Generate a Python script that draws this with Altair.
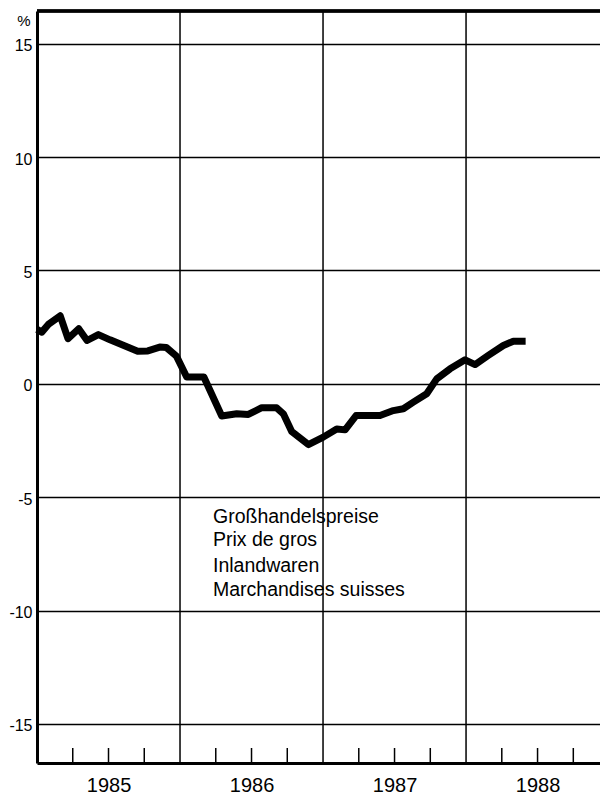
import altair as alt
import pandas as pd

# Months since January 1985 and percentage change (wholesale prices, domestic goods)
months = [0.0, 0.40, 0.95, 1.95, 2.60, 3.50, 4.20, 5.15, 6.13, 8.45, 9.30, 10.30, 10.85,
          11.70, 12.56, 14.00, 15.50, 16.76, 17.73, 18.86, 20.11, 20.67, 21.37, 22.77,
          24.02, 25.15, 25.85, 26.77, 28.78, 29.90, 30.74, 31.58, 32.70, 33.54, 34.66,
          35.92, 36.76, 37.87, 39.13, 39.97, 41.00]
values = [2.40, 2.28, 2.62, 3.00, 1.99, 2.43, 1.91, 2.17, 1.94, 1.44, 1.45, 1.62, 1.60,
          1.22, 0.30, 0.30, -1.42, -1.32, -1.35, -1.05, -1.06, -1.32, -2.10, -2.68,
          -2.35, -1.99, -2.03, -1.40, -1.40, -1.18, -1.10, -0.81, -0.44, 0.22, 0.66,
          1.06, 0.85, 1.25, 1.69, 1.88, 1.88]

year_bounds = [12, 24, 36]
quarter_ticks = [3, 6, 9, 15, 18, 21, 27, 30, 33, 39, 42, 45]
year_label_pos = [6, 18, 30, 42]
y_ticks = [-15, -10, -5, 0, 5, 10, 15]
text_block1 = "Großhandelspreise\nPrix de gros"
text_block2 = "Inlandwaren\nMarchandises suisses"

W, H = 563, 752
FONT = "Liberation Sans"

line_df = pd.DataFrame({"m": months, "v": values})
bounds_df = pd.DataFrame({"m": year_bounds})
q_df = pd.DataFrame({"m": quarter_ticks})

xscale = alt.Scale(domain=[0, 47.24], nice=False, zero=False)
yscale = alt.Scale(domain=[-16.72, 16.44], nice=False, zero=False)

x_axis = alt.Axis(
    values=year_label_pos, labelExpr="1985 + floor(datum.value / 12)",
    tickSize=0, domain=True, domainColor="black", domainWidth=3,
    grid=False, labelFontSize=20, labelPadding=12, labelColor="black",
    labelFont=FONT, title=None, labelBaseline="top")

y_axis = alt.Axis(
    values=y_ticks, labelExpr="datum.value < 0 ? '-' + abs(datum.value) : '' + datum.value",
    tickSize=0, domain=True, domainColor="black", domainWidth=3,
    grid=True, gridColor="black", gridWidth=1.5, labelFontSize=16,
    labelPadding=5, labelColor="black", labelFont=FONT, labelOffset=2,
    title="%", titleAngle=0, titleAlign="right", titleBaseline="middle",
    titleX=-7, titleY=9, titleFont=FONT, titleFontSize=15,
    titleFontWeight="normal", titleColor="black")

line = alt.Chart(line_df).mark_line(
    color="black", strokeWidth=7, strokeJoin="round", strokeCap="butt"
).encode(
    x=alt.X("m:Q", scale=xscale, axis=x_axis),
    y=alt.Y("v:Q", scale=yscale, axis=y_axis),
)

vrules = alt.Chart(bounds_df).mark_rule(color="black", strokeWidth=1.5).encode(
    x=alt.X("m:Q", scale=xscale, axis=x_axis)
)

qticks = alt.Chart(q_df).mark_rule(color="black", strokeWidth=1.5).encode(
    x=alt.X("m:Q", scale=xscale, axis=x_axis),
    y=alt.value(H), y2=alt.value(H - 15)
)

top_border = alt.Chart(bounds_df).mark_rule(color="black", strokeWidth=3).encode(
    x=alt.value(0), x2=alt.value(W), y=alt.value(0)
)

t1 = alt.Chart(pd.DataFrame({"t": [text_block1]})).mark_text(
    align="left", baseline="middle", font=FONT, fontSize=19.5, lineHeight=23,
    lineBreak="\n", color="black"
).encode(text="t:N", x=alt.value(176), y=alt.value(506))

t2 = alt.Chart(pd.DataFrame({"t": [text_block2]})).mark_text(
    align="left", baseline="middle", font=FONT, fontSize=19.5, lineHeight=24,
    lineBreak="\n", color="black"
).encode(text="t:N", x=alt.value(176), y=alt.value(555))

chart = alt.layer(vrules, qticks, top_border, line, t1, t2).properties(
    width=W, height=H,
    autosize=alt.AutoSizeParams(type="none"),
    padding={"left": 29, "top": 3, "right": 0, "bottom": 34},
).configure_view(stroke=None).configure(background="white")

chart.save("out.html", embed_options={"renderer": "svg", "actions": False})
